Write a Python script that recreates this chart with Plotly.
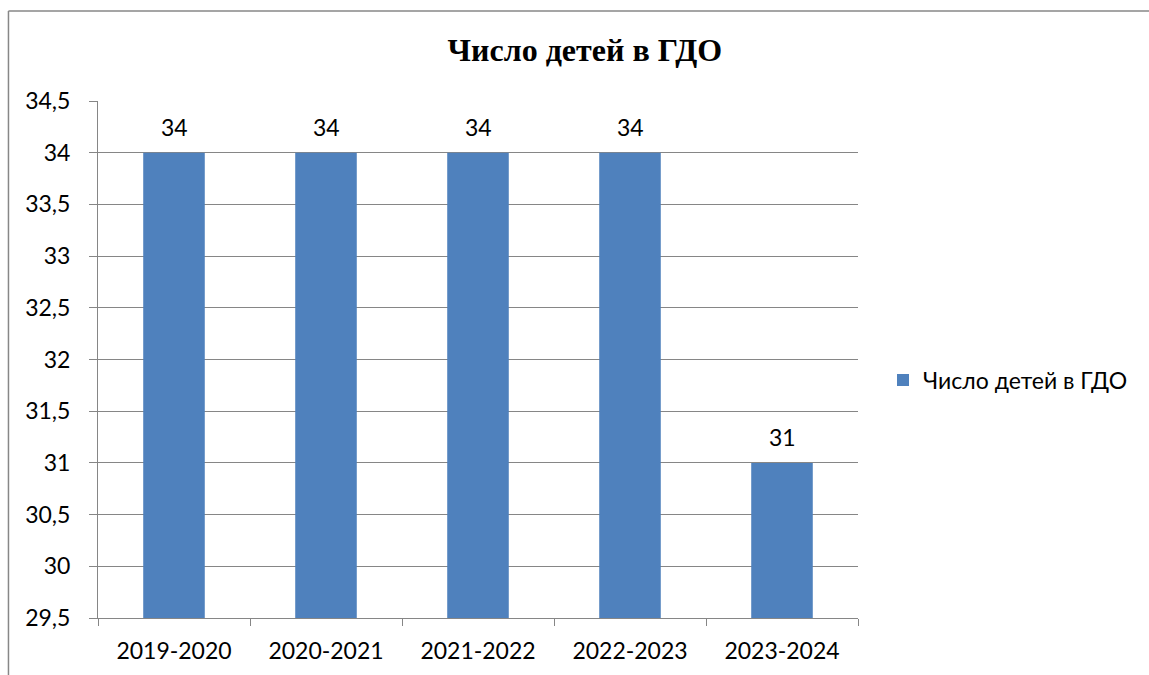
import plotly.graph_objects as go

# Data
years = ['2019-2020', '2020-2021', '2021-2022', '2022-2023', '2023-2024']
children = [34, 34, 34, 34, 31]
y_ticks = [29.5, 30, 30.5, 31, 31.5, 32, 32.5, 33, 33.5, 34, 34.5]

series_name = 'Число детей в ГДО'
bar_color = '#4F81BD'
grid_color = '#868686'
label_font = dict(family='Lato, Liberation Sans, sans-serif', size=23, color='black')

fig = go.Figure()

fig.add_trace(go.Bar(
    x=years,
    y=children,
    name=series_name,
    marker=dict(color=bar_color, line=dict(width=0)),
    showlegend=True,
))

# value labels above the bars
for year, value in zip(years, children):
    fig.add_annotation(
        x=year, y=value, text=str(value),
        showarrow=False, yanchor='middle', yshift=26,
        font=label_font,
    )

fig.update_layout(
    width=1149,
    height=675,
    margin=dict(l=98, r=291, t=101, b=57),
    paper_bgcolor='white',
    plot_bgcolor='white',
    separators=', ',
    bargap=0.595,
    font=label_font,
    title=dict(
        text='<b>Число детей в ГДО</b>',
        font=dict(family='Liberation Serif, Times New Roman, serif', size=32, color='black'),
        x=0.509, xanchor='center',
        y=0.926, yanchor='middle',
    ),
    xaxis=dict(
        type='category',
        automargin=False,
        showline=True,
        linecolor=grid_color,
        linewidth=1,
        ticks='outside',
        tickson='boundaries',
        ticklen=7,
        tickcolor=grid_color,
        showgrid=False,
        tickfont=label_font,
        ticklabelstandoff=12,
    ),
    yaxis=dict(
        range=[29.5, 34.5],
        tickvals=y_ticks,
        automargin=False,
        showline=True,
        linecolor=grid_color,
        linewidth=1,
        ticks='outside',
        ticklen=8,
        tickcolor=grid_color,
        showgrid=True,
        gridcolor=grid_color,
        gridwidth=1,
        zeroline=False,
        tickfont=label_font,
        ticklabelstandoff=14,
    ),
    legend=dict(
        xref='container', yref='container',
        x=0.7685, xanchor='left',
        y=0.437, yanchor='middle',
        font=label_font,
        bgcolor='rgba(0,0,0,0)',
    ),
)

# outer chart frame (left and top edges visible in the frame)
frame_left = -0.1178
frame_top = 1.174
fig.add_shape(type='line', xref='paper', yref='paper',
              x0=frame_left, x1=frame_left, y0=-0.3, y1=frame_top,
              line=dict(color='#878787', width=1.5))
fig.add_shape(type='line', xref='paper', yref='paper',
              x0=frame_left, x1=1.5, y0=frame_top, y1=frame_top,
              line=dict(color='#878787', width=1.5))

# drop the default 8px body margin so the figure fills the window exactly
fig.write_html("out.html", config={'displayModeBar': False},
               post_script="document.body.style.margin = '0';")
